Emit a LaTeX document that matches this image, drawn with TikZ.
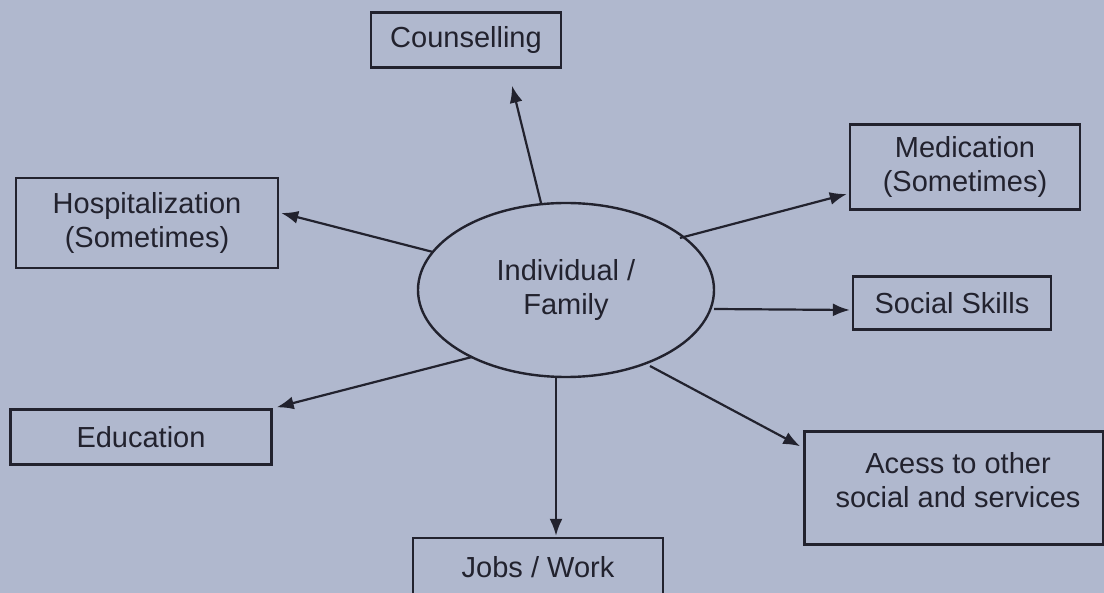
\documentclass[tikz,border=0pt]{standalone}
\usepackage{fontspec}
\setmainfont{Liberation Sans}
\usetikzlibrary{shapes.geometric,arrows.meta,calc}
\definecolor{paper}{RGB}{176,184,206}
\definecolor{ink}{RGB}{34,34,46}
\tikzset{
  box/.style={draw=ink, line width=2.4pt, fill=paper, text=ink, align=center, inner sep=0pt,
    font=\fontsize{29}{34}\selectfont},
  lbl/.style={text=ink, align=center, inner sep=0pt, font=\fontsize{29}{34}\selectfont},
  hub/.style={ellipse, draw=ink, line width=2.4pt, text=ink, align=center, inner sep=0pt,
    minimum width=296pt, minimum height=174pt, font=\fontsize{29}{34}\selectfont},
  arr/.style={draw=ink, line width=2.2pt, -{Latex[length=17pt,width=13pt]}}
}
\begin{document}
\begin{tikzpicture}[x=1pt,y=-1pt]
\fill[paper] (0,0) rectangle (1104,593);
\useasboundingbox (0,0) rectangle (1104,593);
\clip (0,0) rectangle (1104,593);
\node[hub] (e) at (566,290) {Individual /\\Family};
\node[box, minimum width=190pt, minimum height=55pt] (c) at (466,40) {Counselling};
\node[box, minimum width=262pt, minimum height=90pt] (h) at (147,223) {Hospitalization\\(Sometimes)};
\node[box, minimum width=230pt, minimum height=85pt] (m) at (965,167) {Medication\\(Sometimes)};
\node[box, minimum width=198pt, minimum height=53pt] (s) at (952,303) {Social Skills};
\node[box, minimum width=261pt, minimum height=55pt] (ed) at (141,437) {Education};
\node[box, minimum width=299pt, minimum height=113pt] (a) at (954,488) {};
\node[lbl] (at) at ($(a.center)+(4,-8)$) {Acess to other\\social and services};
\node[box, minimum width=250pt, minimum height=58pt] (j) at (538,567) {Jobs / Work};
\draw[arr] ($(e.center)+(-25,-87)$) -- ($(c.south)+(46,17)$);
\draw[arr] ($(e.center)+(-133,-38)$) -- ($(h.east)+(2,-10)$);
\draw[arr] ($(e.center)+(114,-52)$) -- ($(m.west)+(-2,27)$);
\draw[arr] ($(e.center)+(148,19)$) -- ($(s.west)+(-2,7)$);
\draw[arr] ($(e.center)+(-94,67)$) -- ($(ed.north east)+(4,-1)$);
\draw[arr] ($(e.center)+(84,76)$) -- ($(a.north west)+(-3,16)$);
\draw[arr] ($(e.center)+(-10,88)$) -- ($(j.north)+(18,-1)$);
\end{tikzpicture}
\end{document}
